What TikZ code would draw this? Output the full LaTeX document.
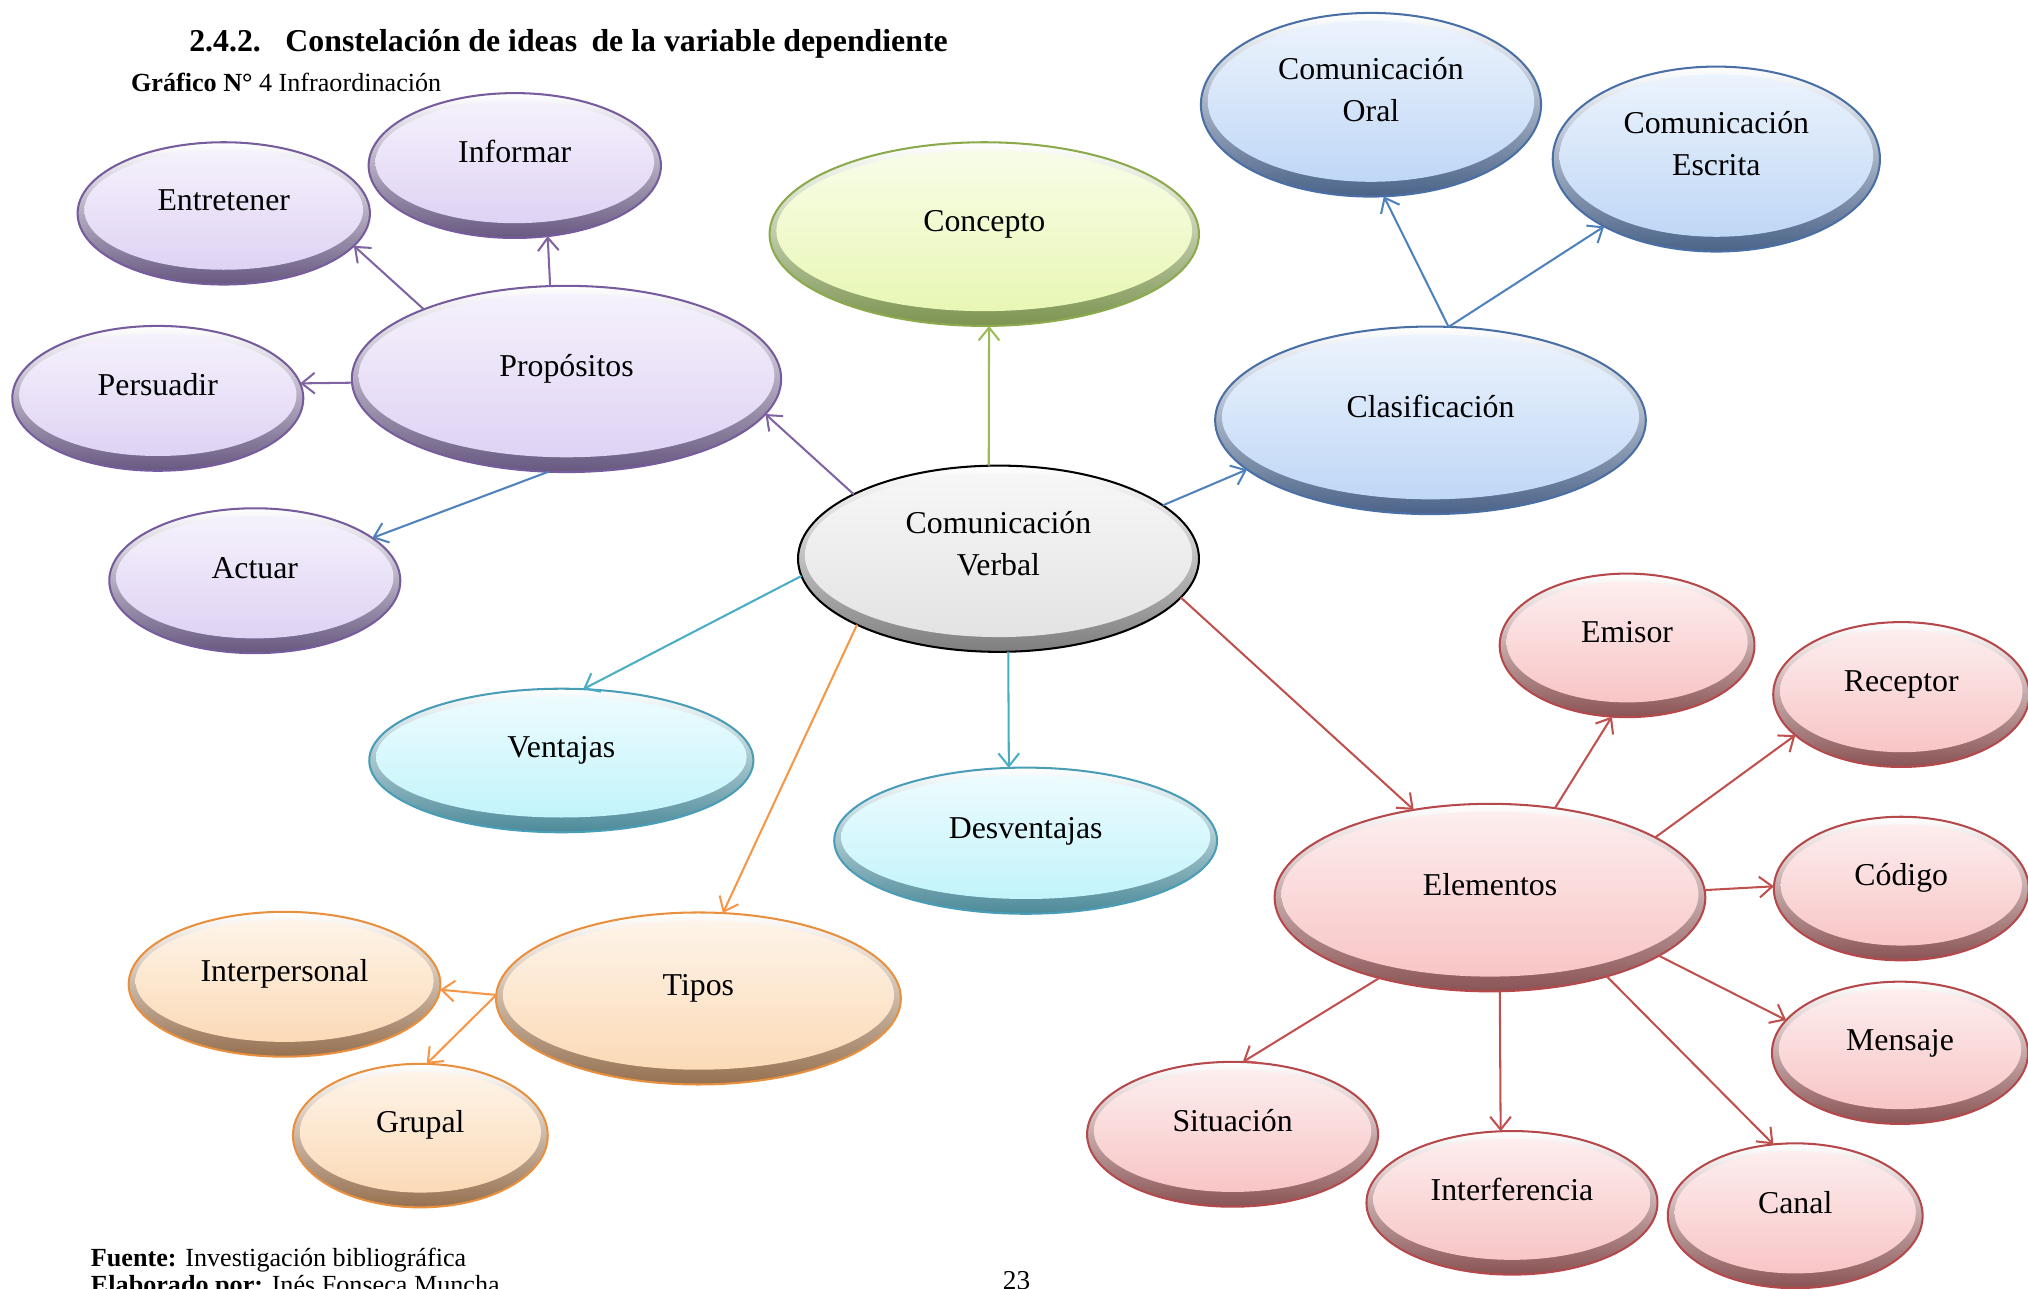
\documentclass[tikz,border=0pt]{standalone}
\usepackage{fontspec}
\setmainfont{Liberation Serif}
\usetikzlibrary{shapes.geometric,arrows.meta,calc}

\definecolor{grisLine}{HTML}{000000}
\definecolor{grisFill}{HTML}{E3E3E3}
\definecolor{grisRim}{HTML}{7E7E7E}
\definecolor{verdeLine}{HTML}{8CAA4C}
\definecolor{verdeFill}{HTML}{E8F7B4}
\definecolor{verdeRim}{HTML}{7C9450}
\definecolor{moradoLine}{HTML}{765C9C}
\definecolor{moradoFill}{HTML}{DFD2F4}
\definecolor{moradoRim}{HTML}{675880}
\definecolor{azulLine}{HTML}{4A6FA5}
\definecolor{azulFill}{HTML}{BFD7F6}
\definecolor{azulRim}{HTML}{4A6388}
\definecolor{cianLine}{HTML}{4A9DB6}
\definecolor{cianFill}{HTML}{C2F4FB}
\definecolor{cianRim}{HTML}{4C8A99}
\definecolor{naranjaLine}{HTML}{E8903E}
\definecolor{naranjaFill}{HTML}{FBDAB6}
\definecolor{naranjaRim}{HTML}{96704F}
\definecolor{rojoLine}{HTML}{B5484B}
\definecolor{rojoFill}{HTML}{F8C5C6}
\definecolor{rojoRim}{HTML}{8A5354}

\definecolor{flechaMorado}{HTML}{8064A2}
\definecolor{flechaAzul}{HTML}{4F81BD}
\definecolor{flechaVerde}{HTML}{9BBB59}
\definecolor{flechaCian}{HTML}{4BACC6}
\definecolor{flechaNaranja}{HTML}{F79646}
\definecolor{flechaRojo}{HTML}{C0504D}

\tikzset{
  bubble/.style={ellipse, draw=#1Line, line width=0.9pt, inner sep=0pt, outer sep=0pt,
    font=\fontsize{14}{18.5}\selectfont, text height=0.3cm, text depth=0.38cm,
    path picture={
      \shade[top color=white, bottom color=#1Rim]
        (path picture bounding box.south west) rectangle (path picture bounding box.north east);
      \shade[top color=#1Fill!30!white, bottom color=#1Fill]
        let \p1=(path picture bounding box.south west), \p2=(path picture bounding box.north east) in
        ({(\x1+\x2)/2},{(\y1+\y2)/2+1.5pt}) ellipse [x radius={(\x2-\x1)/2-3pt}, y radius={(\y2-\y1)/2-5pt}];
    }},
  twoline/.style={align=center, text height=0.95cm, text depth=0.43cm},
  flecha/.style={-{Straight Barb[length=2mm,width=3.2mm]}, line width=0.9pt, draw=#1},
  pie/.style={anchor=base west, inner sep=0pt, font=\fontsize{11.5}{14}\selectfont},
}

\begin{document}
\begin{tikzpicture}

\useasboundingbox (0,0) rectangle (31.36,19.92);

\node[anchor=base west, inner sep=0pt, font=\fontsize{14}{17}\selectfont\bfseries] at (2.92,19.12) (titulo) {2.4.2.\hspace{0.38cm}Constelación de ideas\hspace{0.1cm} de la variable dependiente};
\node[pie] at (2.02,18.5) (grafico) {\textbf{Gráfico N°} 4 Infraordinación};
\node[pie] at (1.40,0.34) (fuente) {\textbf{Fuente:} Investigación bibliográfica};
\node[pie] at (1.40,-0.08) (elaborado) {\textbf{Elaborado por:} Inés Fonseca Muncha};
\node[anchor=base, font=\fontsize{12}{14}\selectfont] at (15.72,-0.02) (pagina) {23};

% centro
\node[bubble=gris, twoline, minimum width=6.2cm, minimum height=2.88cm] at (15.44,11.28) (cv) {Comunicación\\Verbal};
\node[bubble=verde, minimum width=6.64cm, minimum height=2.84cm] at (15.22,16.30) (concepto) {Concepto};

% propositos
\node[bubble=morado, minimum width=6.64cm, minimum height=2.88cm] at (8.76,14.06) (prop) {Propósitos};
\node[bubble=morado, minimum width=4.52cm, minimum height=2.24cm] at (7.96,17.36) (informar) {Informar};
\node[bubble=morado, minimum width=4.52cm, minimum height=2.2cm] at (3.46,16.62) (entretener) {Entretener};
\node[bubble=morado, minimum width=4.5cm, minimum height=2.24cm] at (2.44,13.76) (persuadir) {Persuadir};
\node[bubble=morado, minimum width=4.5cm, minimum height=2.24cm] at (3.94,10.94) (actuar) {Actuar};

% clasificacion
\node[bubble=azul, twoline, minimum width=5.26cm, minimum height=2.84cm] at (21.2,18.3) (oral) {Comunicación\\Oral};
\node[bubble=azul, twoline, minimum width=5.06cm, minimum height=2.86cm] at (26.54,17.46) (escrita) {Comunicación\\Escrita};
\node[bubble=azul, minimum width=6.66cm, minimum height=2.9cm] at (22.12,13.42) (clasif) {Clasificación};

% ventajas
\node[bubble=cian, minimum width=5.94cm, minimum height=2.22cm] at (8.68,8.16) (ventajas) {Ventajas};
\node[bubble=cian, minimum width=5.92cm, minimum height=2.26cm] at (15.86,6.92) (desv) {Desventajas};

% tipos
\node[bubble=naranja, minimum width=6.26cm, minimum height=2.66cm] at (10.8,4.48) (tipos) {Tipos};
\node[bubble=naranja, minimum width=4.82cm, minimum height=2.24cm] at (4.4,4.7) (interp) {Interpersonal};
\node[bubble=naranja, minimum width=3.94cm, minimum height=2.22cm] at (6.5,2.36) (grupal) {Grupal};

% elementos
\node[bubble=rojo, minimum width=6.66cm, minimum height=2.9cm] at (23.04,6.04) (elem) {Elementos};
\node[bubble=rojo, minimum width=3.94cm, minimum height=2.22cm] at (25.16,9.94) (emisor) {Emisor};
\node[bubble=rojo, minimum width=3.96cm, minimum height=2.24cm] at (29.4,9.18) (receptor) {Receptor};
\node[bubble=rojo, minimum width=3.94cm, minimum height=2.22cm] at (29.4,6.18) (codigo) {Código};
\node[bubble=rojo, minimum width=3.96cm, minimum height=2.2cm] at (29.38,3.64) (mensaje) {Mensaje};
\node[bubble=rojo, minimum width=3.94cm, minimum height=2.24cm] at (27.76,1.12) (canal) {Canal};
\node[bubble=rojo, minimum width=4.5cm, minimum height=2.22cm] at (23.38,1.32) (interf) {Interferencia};
\node[bubble=rojo, minimum width=4.5cm, minimum height=2.24cm] at (19.06,2.38) (situac) {Situación};

% flechas
\draw[flecha=flechaVerde] (cv.96) -- (concepto.-87);
\draw[flecha=flechaMorado] (cv.156) -- (prop.-10);
\draw[flecha=flechaMorado] (prop.100) -- (informar.-65);
\draw[flecha=flechaMorado] (prop.154) -- (entretener.-14);
\draw[flecha=flechaMorado] (prop.181) -- (persuadir.6);
\draw[flecha=flechaAzul] (prop.259) -- (actuar.20);
\draw[flecha=flechaAzul] (cv.18) -- (clasif.195);
\draw[flecha=flechaAzul] (clasif.79) -- (oral.-82);
\draw[flecha=flechaAzul] (clasif.79) -- (escrita.211);
\draw[flecha=flechaCian] (cv.185) -- (ventajas.73);
\draw[flecha=flechaCian] (cv.-84) -- (desv.103);
\draw[flecha=flechaNaranja] (cv.205) -- (tipos.74);
\draw[flecha=flechaNaranja] (tipos.179) -- (interp.-2);
\draw[flecha=flechaNaranja] (tipos.179) -- (grupal.85);
\draw[flecha=flechaRojo] (cv.-12) -- (elem.131);
\draw[flecha=flechaRojo] (elem.54) -- (emisor.-102);
\draw[flecha=flechaRojo] (elem.20) -- (receptor.201);
\draw[flecha=flechaRojo] (elem.2) -- (codigo.179);
\draw[flecha=flechaRojo] (elem.-19) -- (mensaje.164);
\draw[flecha=flechaRojo] (elem.-34) -- (canal.107);
\draw[flecha=flechaRojo] (elem.-84) -- (interf.99);
\draw[flecha=flechaRojo] (elem.216) -- (situac.82);

\end{tikzpicture}
\end{document}
